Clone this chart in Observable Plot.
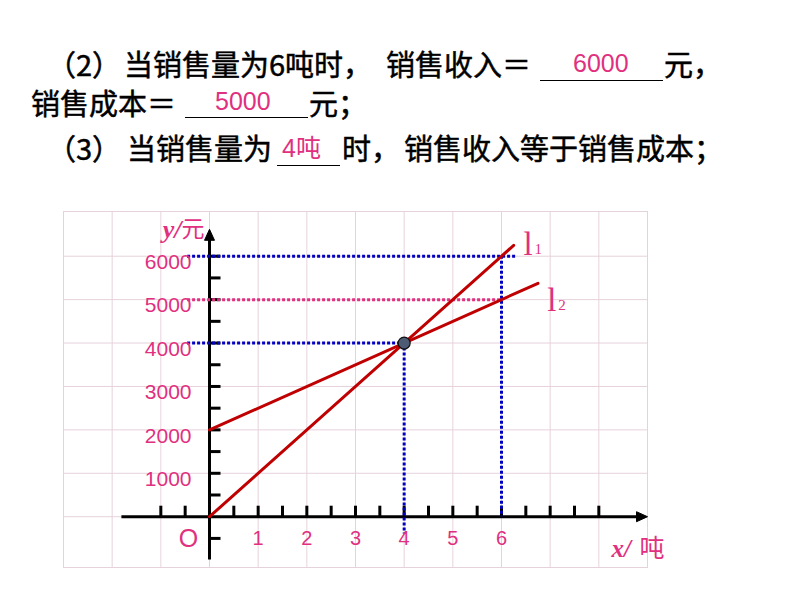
<!DOCTYPE html>
<html>
<head>
<meta charset="utf-8">
<script src="https://cdn.jsdelivr.net/npm/d3@7"></script>
<script src="https://cdn.jsdelivr.net/npm/@observablehq/plot@0.6"></script>
<style>
  html, body { margin: 0; padding: 0; background: #fff; }
  #page { position: relative; width: 794px; height: 596px; overflow: hidden; background: #fff; }
  .seg { position: absolute; white-space: nowrap; line-height: 1; }
  .cjk { font-family: "Noto Sans CJK SC", sans-serif; font-size: 29px; color: #000; -webkit-text-stroke: 0.5px #000; }
  .ans { font-family: "Liberation Sans", Arial, "Noto Sans CJK SC", sans-serif; font-size: 25px; color: #e0307f; }
  .uline { position: absolute; height: 0; border-top: 1.6px solid #000; }
  #chart { position: absolute; left: 0; top: 200px; }
</style>
</head>
<body>
<div id="page"><div id="chart"></div></div>
<script>
// ---- chart data ----
const revenueLine = [{x: 0, y: 0}, {x: 6.25, y: 6250}];     // l1 销售收入
const costLine = [{x: 0, y: 2000}, {x: 6.75, y: 5375}];     // l2 销售成本
const intersection = [{x: 4, y: 4000}];
const xTickLabels = [1, 2, 3, 4, 5, 6];
const yTickLabels = [1000, 2000, 3000, 4000, 5000, 6000];
const xMinorTicks = [-1, -0.5, 0.5, 1, 1.5, 2, 2.5, 3, 3.5, 4, 4.5, 5, 5.5, 6, 6.5, 7, 7.5, 8];
const yMinorTicks = [-500, 500, 1000, 1500, 2000, 2500, 3000, 3500, 4000, 4500, 5000, 5500, 6000];
const gridX = [-2, -1, 0, 1, 2, 3, 4, 5, 6, 7, 8];
const gridY = [0, 1000, 2000, 3000, 4000, 5000, 6000];
const xAxisExtent = [-1.8, 9];
const yAxisExtent = [-1000, 6620];
const guideH = [
  {y: 6000, x1: -0.45, x2: 6.3, kind: "revenue"},
  {y: 5000, x1: -0.45, x2: 6, kind: "cost"},
  {y: 4000, x1: -0.45, x2: 4, kind: "revenue"}
];
const guideV = [
  {x: 4, y1: 4000, y2: -400},
  {x: 6, y1: 6000, y2: 0}
];

// ---- header text ----
const headerSegments = [
  {t: "（2）", left: 47, base: 76},
  {t: "当销售量为6吨时，", left: 124, base: 76},
  {t: "销售收入＝", left: 386, base: 76},
  {t: "元，", left: 664, base: 76},
  {t: "销售成本＝", left: 31, base: 115},
  {t: "元；", left: 309, base: 115},
  {t: "（3）", left: 47, base: 160},
  {t: "当销售量为", left: 127, base: 160},
  {t: "时，", left: 342, base: 160},
  {t: "销售收入等于销售成本；", left: 404, base: 160}
];
const answerSegments = [
  {t: "6000", left: 573, base: 72},
  {t: "5000", left: 215, base: 110},
  {t: "4吨", left: 282, base: 157}
];
const underlines = [
  {x1: 540, x2: 663, y: 80},
  {x1: 185, x2: 308, y: 117},
  {x1: 277, x2: 340, y: 165}
];

const PINK = "#e0307f";
const BLUE = "#0000c0";
const RED = "#c00000";
const GRID = "#e6d2dc";

const page = document.getElementById("page");
function addSeg(s, cls, fs, baseRatio) {
  const d = document.createElement("div");
  d.className = "seg " + cls;
  d.textContent = s.t;
  d.style.left = s.left + "px";
  d.style.top = (s.base - baseRatio * fs) + "px";
  page.appendChild(d);
}
headerSegments.forEach(s => addSeg(s, "cjk", 29, 0.936));
answerSegments.forEach(s => addSeg(s, "ans", 25, 0.8465));
underlines.forEach(u => {
  const d = document.createElement("div");
  d.className = "uline";
  d.style.left = u.x1 + "px";
  d.style.width = (u.x2 - u.x1) + "px";
  d.style.top = u.y + "px";
  page.appendChild(d);
});

// custom symbols
const tickUp = {draw(ctx) { ctx.moveTo(0, 0); ctx.lineTo(0, -11); }};
const tickRight = {draw(ctx) { ctx.moveTo(0, 0); ctx.lineTo(11, 0); }};
const headRight = {draw(ctx) { ctx.moveTo(0, 0); ctx.lineTo(-11, -5); ctx.lineTo(-11, 5); ctx.closePath(); }};
const headUp = {draw(ctx) { ctx.moveTo(0, 0); ctx.lineTo(-5, 11); ctx.lineTo(5, 11); ctx.closePath(); }};

const chart = Plot.plot({
  width: 794,
  height: 396,
  marginLeft: 63,
  marginRight: 147,
  marginTop: 11,
  marginBottom: 29,
  x: {domain: [-3, 9], axis: null},
  y: {domain: [-1170, 7030], axis: null},
  style: {background: "white", overflow: "visible"},
  marks: [
    // grid
    Plot.ruleX(gridX, {x: d => d, stroke: GRID, strokeWidth: 1}),
    Plot.ruleY(gridY, {y: d => d, stroke: GRID, strokeWidth: 1}),
    Plot.frame({stroke: GRID, strokeWidth: 1}),
    // axes
    Plot.ruleY([0], {x1: xAxisExtent[0], x2: xAxisExtent[1] - 0.15, stroke: "black", strokeWidth: 3}),
    Plot.ruleX([0], {y1: yAxisExtent[0], y2: yAxisExtent[1] - 200, stroke: "black", strokeWidth: 3}),
    Plot.dot([xAxisExtent[1]], {x: d => d, y: 0, symbol: headRight, r: 5, fill: "black", stroke: "black", strokeWidth: 1}),
    Plot.dot([yAxisExtent[1]], {x: 0, y: d => d, symbol: headUp, r: 5, fill: "black", stroke: "black", strokeWidth: 1}),
    Plot.dot(xMinorTicks, {x: d => d, y: 0, symbol: tickUp, r: 5, fill: "none", stroke: "black", strokeWidth: 3}),
    Plot.dot(yMinorTicks, {x: 0, y: d => d, symbol: tickRight, r: 5, fill: "none", stroke: "black", strokeWidth: 3}),
    // dotted guides
    Plot.ruleY(guideH, {y: "y", x1: "x1", x2: "x2", stroke: d => d.kind === "cost" ? PINK : BLUE, strokeWidth: 3, strokeDasharray: "3,2"}),
    Plot.ruleX(guideV, {x: "x", y1: "y1", y2: "y2", stroke: BLUE, strokeWidth: 3, strokeDasharray: "3,2"}),
    // lines
    Plot.line(revenueLine, {x: "x", y: "y", stroke: RED, strokeWidth: 3}),
    Plot.line(costLine, {x: "x", y: "y", stroke: RED, strokeWidth: 3}),
    Plot.dot(intersection, {x: "x", y: "y", r: 6, fill: "#4d5b74", stroke: "#111", strokeWidth: 1.2}),
    // tick labels
    Plot.text(yTickLabels, {x: 0, y: d => d, text: d => String(d), dx: -18, dy: 6, textAnchor: "end", fill: PINK, fontSize: 21, fontFamily: "Liberation Sans, Arial, sans-serif"}),
    Plot.text(xTickLabels, {x: d => d, y: 0, text: d => String(d), dy: 22, fill: PINK, fontSize: 20, fontFamily: "Liberation Sans, Arial, sans-serif"}),
    Plot.text(["O"], {x: 0, y: 0, text: d => d, dx: -21, dy: 22, fill: PINK, fontSize: 25, fontFamily: "Liberation Sans, Arial, sans-serif"}),
    // axis titles
    Plot.text(["元"], {x: 0, y: 6610, text: d => d, dx: -5, textAnchor: "end", fill: PINK, fontSize: 23, fontFamily: "Noto Sans CJK SC, sans-serif"}),
    Plot.text(["y/"], {x: 0, y: 6610, text: d => d, dx: -28, textAnchor: "end", fill: PINK, fontSize: 26, fontStyle: "italic", fontWeight: "bold", fontFamily: "Liberation Serif, Times New Roman, serif"}),
    Plot.text(["x/"], {x: 8.26, y: -740, text: d => d, textAnchor: "start", fill: PINK, fontSize: 25, fontStyle: "italic", fontWeight: "bold", fontFamily: "Liberation Serif, Times New Roman, serif"}),
    Plot.text(["吨"], {x: 8.26, y: -740, text: d => d, dx: 28, textAnchor: "start", fill: PINK, fontSize: 25, fontFamily: "Noto Sans CJK SC, sans-serif"}),
    // line labels
    Plot.text(["l"], {x: 6.45, y: 6280, text: d => d, textAnchor: "start", fill: PINK, fontSize: 33, fontFamily: "Liberation Serif, serif"}),
    Plot.text(["1"], {x: 6.45, y: 6280, text: d => d, dx: 11, dy: 5, textAnchor: "start", fill: PINK, fontSize: 15, fontFamily: "Liberation Serif, serif"}),
    Plot.text(["l"], {x: 6.94, y: 4990, text: d => d, textAnchor: "start", fill: PINK, fontSize: 33, fontFamily: "Liberation Serif, serif"}),
    Plot.text(["2"], {x: 6.94, y: 4990, text: d => d, dx: 11, dy: 5, textAnchor: "start", fill: PINK, fontSize: 15, fontFamily: "Liberation Serif, serif"})
  ]
});
document.getElementById("chart").appendChild(chart);
</script>
</body>
</html>
